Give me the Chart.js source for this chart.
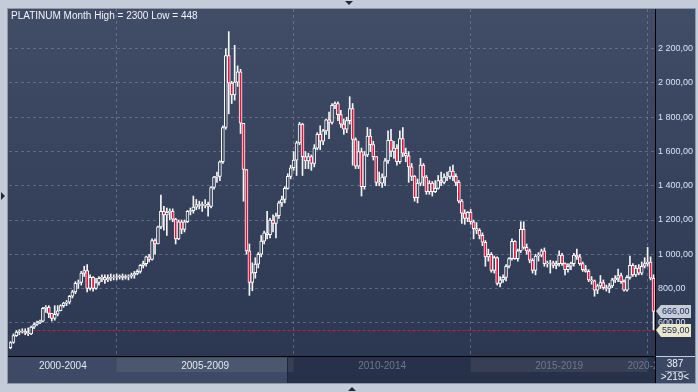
<!DOCTYPE html>
<html>
<head>
<meta charset="utf-8">
<script src="https://cdn.jsdelivr.net/npm/chart.js@4.4.1/dist/chart.umd.min.js"></script>
<style>
    html, body { margin: 0; padding: 0; background: #c3ccd8; }
    canvas { display: block; }
</style>
</head>
<body>
<canvas id="priceChart" width="698" height="392"></canvas>
<script>
const title = 'PLATINUM Month High = 2300 Low = 448';
const firstYear = 2002;

// monthly OHLC, one line per year (2002 .. 2020)
const opens = [
    455, 485, 525, 545, 550, 552, 540, 535, 575, 590, 600, 610,
    685, 690, 655, 625, 650, 670, 700, 715, 720, 755, 780, 830,
    835, 890, 905, 800, 865, 800, 835, 860, 865, 850, 860, 865,
    866, 868, 872, 865, 870, 872, 880, 888, 900, 935, 945, 985,
    970, 1080, 1060, 1160, 1250, 1230, 1245, 1250, 1205, 1090, 1190, 1145,
    1190, 1250, 1255, 1275, 1290, 1285, 1290, 1292, 1280, 1390, 1450, 1455,
    1540, 1740, 2160, 2000, 1930, 2005, 2065, 1765, 1495, 1020, 835, 893,
    942, 1000, 1077, 1125, 1115, 1200, 1180, 1225, 1300, 1320, 1385, 1455,
    1505, 1550, 1650, 1760, 1570, 1545, 1570, 1530, 1620, 1700, 1660, 1720,
    1785, 1770, 1870, 1880, 1815, 1760, 1730, 1780, 1850, 1670, 1515, 1600,
    1395, 1580, 1690, 1640, 1570, 1420, 1415, 1450, 1545, 1665, 1600, 1620,
    1540, 1675, 1590, 1575, 1510, 1455, 1330, 1415, 1520, 1450, 1365, 1415,
    1365, 1385, 1430, 1420, 1450, 1455, 1485, 1455, 1420, 1310, 1240, 1210,
    1245, 1190, 1150, 1140, 1110, 1070, 985, 1000, 905, 980, 830, 850,
    865, 930, 975, 1075, 975, 1020, 1145, 1040, 1020, 965, 905, 990,
    995, 1020, 945, 948, 950, 935, 945, 995, 945, 910, 930, 945,
    995, 985, 945, 910, 900, 850, 845, 790, 815, 835, 805, 800,
    815, 850, 860, 875, 840, 790, 865, 935, 880, 920, 890, 930,
    945, 955, 860
];
const highs = [
    490, 535, 555, 560, 565, 565, 570, 580, 600, 610, 615, 690,
    700, 700, 650, 700, 700, 705, 720, 730, 760, 790, 840, 850,
    900, 930, 940, 880, 870, 860, 870, 880, 880, 880, 885, 880,
    885, 880, 885, 880, 880, 890, 900, 910, 940, 960, 990, 1000,
    1090, 1090, 1165, 1345, 1280, 1270, 1265, 1265, 1210, 1200, 1200, 1200,
    1255, 1270, 1340, 1320, 1310, 1305, 1320, 1305, 1395, 1455, 1480, 1545,
    1750, 2200, 2300, 2010, 2220, 2100, 2080, 1760, 1495, 1060, 950, 980,
    1010, 1110, 1135, 1250, 1210, 1230, 1240, 1310, 1340, 1395, 1470, 1520,
    1600, 1660, 1770, 1765, 1600, 1590, 1580, 1640, 1710, 1750, 1730, 1790,
    1830, 1880, 1890, 1890, 1840, 1790, 1800, 1920, 1880, 1680, 1660, 1620,
    1600, 1740, 1730, 1660, 1570, 1480, 1470, 1560, 1720, 1730, 1660, 1640,
    1720, 1740, 1620, 1600, 1530, 1460, 1440, 1560, 1530, 1460, 1430, 1425,
    1430, 1460, 1480, 1470, 1480, 1510, 1520, 1470, 1430, 1320, 1260, 1250,
    1262, 1200, 1185, 1150, 1125, 1080, 1030, 1010, 990, 985, 870, 880,
    940, 980, 1090, 1080, 1030, 1190, 1190, 1060, 1030, 975, 1000, 1010,
    1030, 1037, 960, 965, 960, 960, 1020, 1005, 950, 945, 955, 1005,
    1030, 1000, 955, 935, 910, 870, 850, 825, 876, 850, 820, 830,
    860, 875, 914, 890, 850, 875, 990, 945, 935, 940, 955, 980,
    1040, 985, 880
];
const lows = [
    448, 480, 520, 530, 540, 530, 525, 530, 565, 585, 595, 605,
    660, 630, 610, 615, 640, 670, 690, 700, 710, 745, 770, 800,
    820, 870, 780, 790, 785, 795, 820, 840, 830, 840, 845, 850,
    850, 855, 850, 855, 850, 860, 860, 880, 890, 920, 930, 955,
    965, 1000, 1060, 1150, 1140, 1110, 1200, 1190, 1060, 1085, 1120, 1130,
    1185, 1230, 1240, 1260, 1265, 1250, 1270, 1222, 1270, 1380, 1420, 1430,
    1530, 1730, 1820, 1880, 1900, 1980, 1705, 1310, 1000, 760, 787, 860,
    920, 985, 1060, 1090, 1095, 1130, 1095, 1210, 1280, 1300, 1380, 1440,
    1490, 1460, 1640, 1460, 1500, 1500, 1490, 1510, 1610, 1610, 1640, 1700,
    1675, 1760, 1850, 1780, 1740, 1700, 1710, 1760, 1520, 1500, 1500, 1340,
    1380, 1570, 1600, 1550, 1400, 1400, 1390, 1400, 1530, 1570, 1560, 1520,
    1530, 1570, 1540, 1420, 1430, 1310, 1300, 1400, 1400, 1350, 1350, 1340,
    1360, 1380, 1400, 1410, 1430, 1440, 1430, 1400, 1300, 1180, 1175, 1190,
    1175, 1090, 1120, 1090, 1050, 930, 960, 895, 890, 820, 810, 835,
    845, 920, 965, 970, 960, 1010, 1030, 1000, 950, 890, 880, 960,
    985, 930, 925, 890, 920, 915, 930, 935, 880, 895, 910, 930,
    970, 935, 900, 895, 840, 825, 755, 770, 800, 795, 785, 775,
    805, 835, 840, 830, 785, 785, 855, 870, 870, 880, 880, 920,
    930, 850, 559
];
const closes = [
    485, 525, 545, 550, 552, 540, 535, 575, 590, 600, 610, 685,
    690, 655, 625, 650, 670, 700, 715, 720, 755, 780, 830, 835,
    890, 905, 800, 865, 800, 835, 860, 865, 850, 860, 865, 866,
    868, 872, 865, 870, 872, 880, 888, 900, 935, 945, 985, 970,
    1080, 1060, 1160, 1250, 1230, 1245, 1250, 1205, 1090, 1190, 1145, 1190,
    1250, 1255, 1275, 1290, 1285, 1290, 1292, 1280, 1390, 1450, 1455, 1540,
    1740, 2160, 2000, 1930, 2005, 2065, 1765, 1495, 1020, 835, 893, 942,
    1000, 1077, 1125, 1115, 1200, 1180, 1225, 1300, 1320, 1385, 1455, 1505,
    1550, 1650, 1760, 1570, 1545, 1570, 1530, 1620, 1700, 1660, 1720, 1785,
    1770, 1870, 1880, 1815, 1760, 1730, 1780, 1850, 1670, 1515, 1600, 1395,
    1580, 1690, 1640, 1570, 1420, 1415, 1450, 1545, 1665, 1600, 1620, 1540,
    1675, 1590, 1575, 1510, 1455, 1330, 1415, 1520, 1450, 1365, 1415, 1365,
    1385, 1430, 1420, 1450, 1455, 1485, 1455, 1420, 1310, 1240, 1210, 1245,
    1190, 1150, 1140, 1110, 1070, 985, 1000, 905, 980, 830, 850, 865,
    930, 975, 1075, 975, 1020, 1145, 1040, 1020, 965, 905, 990, 995,
    1020, 945, 948, 950, 935, 945, 995, 945, 910, 930, 945, 995,
    985, 945, 910, 900, 850, 845, 790, 815, 835, 805, 800, 815,
    850, 860, 875, 840, 790, 865, 935, 880, 920, 890, 930, 945,
    955, 860, 666
];

const yTicks = [600, 800, 1000, 1200, 1400, 1600, 1800, 2000, 2200];
const periods = ['2000-2004', '2005-2009', '2010-2014', '2015-2019', '2020-2024'];
const periodStartYears = [2000, 2005, 2010, 2015, 2020];
const lastPrice = 666;
const lowPrice = 559;
const barCountText = '387';
const visibleText = '>219<';

const FONT = '"Liberation Sans", Arial, sans-serif';
const RED = '#e3123a';
const UP_FILL = '#34405a';
const GRID = 'rgba(125,140,165,0.55)';

// month labels
const labels = [];
for (let i = 0; i < closes.length; i++) {
    const y = firstYear + Math.floor(i / 12);
    labels.push(y + '-' + String(i % 12 + 1).padStart(2, '0'));
}

const bodies = closes.map((c, i) => [opens[i], c]);
const wicks = closes.map((c, i) => [lows[i], highs[i]]);

function fmtPrice(v) {
    const n = Math.round(v);
    const s = n >= 1000 ? Math.floor(n / 1000) + ' ' + String(n % 1000).padStart(3, '0') : String(n);
    return s + ',00';
}

function triangle(ctx, pts, color) {
    ctx.fillStyle = color;
    ctx.beginPath();
    ctx.moveTo(pts[0], pts[1]);
    ctx.lineTo(pts[2], pts[3]);
    ctx.lineTo(pts[4], pts[5]);
    ctx.closePath();
    ctx.fill();
}

function priceTag(ctx, y, text, fill) {
    const x = 656;
    y = Math.round(y);
    ctx.fillStyle = fill;
    ctx.beginPath();
    ctx.moveTo(x, y);
    ctx.lineTo(x + 5, y - 6);
    ctx.lineTo(x + 35, y - 6);
    ctx.lineTo(x + 35, y + 7);
    ctx.lineTo(x + 5, y + 7);
    ctx.closePath();
    ctx.fill();
    ctx.fillStyle = '#1b2f66';
    ctx.font = '9px ' + FONT;
    ctx.textAlign = 'left';
    ctx.textBaseline = 'middle';
    ctx.fillText(text, x + 6, y + 1);
}

const framePlugin = {
    id: 'frame',
    beforeDraw(chart) {
        const ctx = chart.ctx;
        const a = chart.chartArea;
        ctx.save();
        ctx.fillStyle = '#c3ccd8';
        ctx.fillRect(0, 0, chart.width, chart.height);
        const g = ctx.createLinearGradient(0, a.top, 0, a.bottom);
        g.addColorStop(0, '#414d67');
        g.addColorStop(1, '#2c3751');
        ctx.fillStyle = g;
        ctx.fillRect(8, 9, 687, a.bottom - 9);
        ctx.strokeStyle = '#8e99aa';
        ctx.lineWidth = 1;
        ctx.strokeRect(7.5, 8.5, 688, 375);
        triangle(ctx, [345, 1, 353, 1, 349, 5], '#222a38');
        triangle(ctx, [348, 391, 356, 391, 352, 387], '#222a38');
        triangle(ctx, [1, 192, 1, 200, 5, 196], '#222a38');
        ctx.restore();
    },
    beforeDatasetsDraw(chart) {
        const ctx = chart.ctx;
        const a = chart.chartArea;
        const y = Math.round(chart.scales.y.getPixelForValue(lowPrice)) + 0.5;
        const x0 = chart.scales.x.getPixelForValue(8) - 1.5;
        ctx.save();
        ctx.strokeStyle = '#c81e2e';
        ctx.lineWidth = 1;
        ctx.setLineDash([3, 2]);
        ctx.beginPath();
        ctx.moveTo(x0, y);
        ctx.lineTo(a.right, y);
        ctx.stroke();
        ctx.restore();
    },
    afterDraw(chart) {
        const ctx = chart.ctx;
        const a = chart.chartArea;
        const xs = chart.scales.x;
        const n = closes.length;
        ctx.save();

        // period band under the plot
        const bandTop = a.bottom + 1;
        const bandBottom = 383;
        const splitX = 288;
        ctx.fillStyle = '#3e4a65';
        ctx.fillRect(8, bandTop, splitX - 8, bandBottom - bandTop);
        ctx.fillStyle = '#27314a';
        ctx.fillRect(splitX, bandTop, a.right - splitX, bandBottom - bandTop);
        const edges = periodStartYears.map(yr => {
            const idx = (yr - firstYear) * 12;
            return idx <= 0 ? a.left : (idx >= n ? a.right : xs.getPixelForValue(idx));
        });
        edges.push(a.right);
        ctx.font = '10px ' + FONT;
        ctx.textAlign = 'center';
        ctx.textBaseline = 'middle';
        periods.forEach((p, k) => {
            const x1 = edges[k], x2 = edges[k + 1];
            if (k % 2 === 1) {
                ctx.fillStyle = 'rgba(255,255,255,0.07)';
                ctx.fillRect(x1, bandTop + 1, x2 - x1, 14);
            }
            ctx.save();
            ctx.beginPath();
            ctx.rect(a.left, bandTop, a.right - a.left, bandBottom - bandTop);
            ctx.clip();
            const cx = (x1 + x2) / 2;
            ctx.fillStyle = cx < splitX ? '#e2e8f1' : '#6e788c';
            ctx.fillText(p, cx, bandTop + 9);
            ctx.restore();
        });
        ctx.fillStyle = '#1e2638';
        ctx.fillRect(splitX - 1, bandTop, 1, bandBottom - bandTop);

        // right bottom box
        ctx.fillStyle = '#3c4863';
        ctx.fillRect(a.right + 1, bandTop, 695 - a.right - 1, bandBottom - bandTop);
        ctx.font = '10px ' + FONT;
        ctx.fillStyle = '#eef2f8';
        ctx.fillText(barCountText, 675, bandTop + 7);
        ctx.fillText(visibleText, 675, bandTop + 20);
        ctx.fillStyle = '#8c97a9';
        ctx.fillRect(665, bandTop + 14, 21, 1);

        // axis lines
        ctx.fillStyle = '#000';
        ctx.fillRect(8, a.bottom, a.right - 8, 1);
        ctx.fillRect(a.right, 9, 1, bandBottom - 9);

        // price tags
        priceTag(ctx, chart.scales.y.getPixelForValue(lastPrice), fmtPrice(lastPrice), '#c8cdd5');
        priceTag(ctx, chart.scales.y.getPixelForValue(lowPrice), fmtPrice(lowPrice), '#ebe7c9');

        // title
        ctx.fillStyle = '#f2f4f8';
        ctx.font = '10px ' + FONT;
        ctx.textAlign = 'left';
        ctx.textBaseline = 'alphabetic';
        ctx.fillText(title, 11, 19);
        ctx.restore();
    }
};

const ctx = document.getElementById('priceChart').getContext('2d');
new Chart(ctx, {
    type: 'bar',
    data: {
        labels: labels,
        datasets: [{
            label: 'body',
            data: bodies,
            backgroundColor: c => closes[c.dataIndex] < opens[c.dataIndex] ? RED : UP_FILL,
            borderColor: '#ffffff',
            borderWidth: 1,
            borderSkipped: false,
            barThickness: 3,
            grouped: false,
            order: 0
        }, {
            label: 'wick',
            data: wicks,
            backgroundColor: '#f6f6f6',
            barThickness: 1,
            grouped: false,
            order: 1
        }]
    },
    options: {
        responsive: false,
        animation: false,
        devicePixelRatio: 1,
        layout: { padding: { left: 9, top: 9, right: 3, bottom: 9 } },
        plugins: {
            legend: { display: false },
            tooltip: { enabled: false }
        },
        scales: {
            x: {
                type: 'category',
                offset: true,
                afterFit: s => { s.height = 27; },
                grid: {
                    offset: false,
                    drawTicks: false,
                    color: c => (c.index % 60 === 36 ? GRID : 'transparent')
                },
                border: { display: false, dash: [3, 3] },
                ticks: { display: false, autoSkip: false }
            },
            y: {
                position: 'right',
                min: 406,
                max: 2432,
                afterBuildTicks: s => { s.ticks = yTicks.map(v => ({ value: v })); },
                afterFit: s => { s.width = 40; },
                grid: { drawTicks: false, color: GRID },
                border: { display: false, dash: [3, 3] },
                ticks: {
                    autoSkip: false,
                    color: '#d6e3f5',
                    padding: 3,
                    font: { family: FONT, size: 9 },
                    callback: v => fmtPrice(v)
                }
            }
        }
    },
    plugins: [framePlugin]
});
</script>
</body>
</html>
